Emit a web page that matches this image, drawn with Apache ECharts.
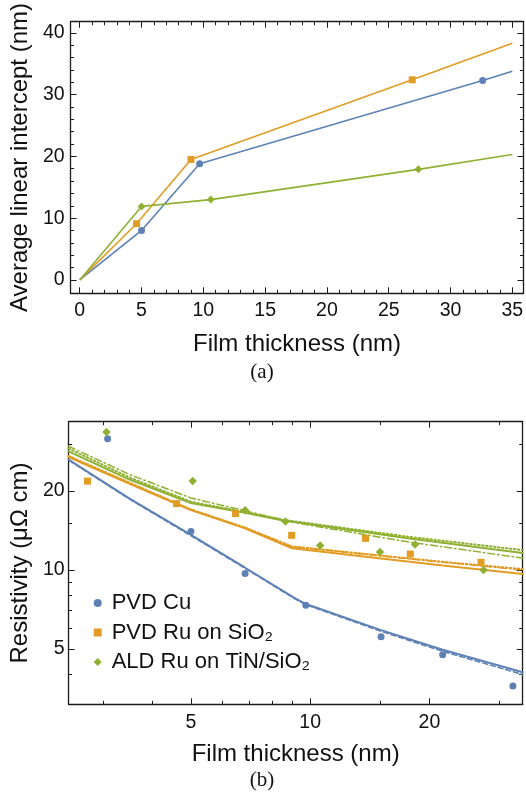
<!DOCTYPE html>
<html><head><meta charset="utf-8">
<script src="https://cdn.jsdelivr.net/npm/echarts@6/dist/echarts.min.js"></script>
<style>html,body{margin:0;padding:0;background:#fff}#c{width:526px;height:800px}</style>
</head><body><div id="c"></div>
<script>
// ---------- Panel (a): average linear intercept ----------
const aCuX  = [0, 5.0, 9.7, 32.6, 35];
const aCuY  = [0, 8.0, 18.8, 32.3, 33.8];
const aRuX  = [0, 4.6, 9.0, 26.9, 35];
const aRuY  = [0, 9.1, 19.5, 32.4, 38.3];
const aAldX = [0, 5.0, 10.6, 27.4, 35];
const aAldY = [0, 11.9, 13.0, 17.9, 20.3];
const aXTicks = [0, 5, 10, 15, 20, 25, 30, 35];
const aYTicks = [0, 10, 20, 30, 40];

// ---------- Panel (b): resistivity (log-log) ----------
const bCuX  = [3.08, 5.0, 6.85, 9.75, 15.1, 21.6, 32.5];
const bCuY  = [31.6, 14.0, 9.7, 7.34, 5.57, 4.76, 3.62];
const bRuX  = [2.74, 4.6, 6.48, 8.98, 13.8, 17.9, 27.0];
const bRuY  = [21.8, 17.9, 16.4, 13.55, 13.2, 11.5, 10.7];
const bAldX = [3.06, 5.05, 6.85, 8.66, 10.6, 15.0, 18.4, 27.4];
const bAldY = [33.5, 21.8, 16.9, 15.3, 12.4, 11.7, 12.5, 10.0];

const fitCuX      = [2.455, 3.5, 5.0, 6.85, 9.1, 9.75, 15.1, 21.6, 34.4];
const fitCuY      = [26.3, 18.7, 13.6, 10.2, 7.85, 7.42, 5.9, 4.97, 4.08];
const fitCuDashY  = [26.2, 18.6, 13.5, 10.15, 7.8, 7.38, 5.84, 4.9, 4.0];
const fitRuX      = [2.455, 3.5, 5.0, 6.85, 9.0, 15.1, 21.6, 34.4];
const fitRuY      = [26.9, 21.3, 16.9, 14.4, 12.1, 11.06, 10.4, 9.65];
const fitRuDotY   = [27.2, 21.5, 17.0, 14.5, 12.3, 11.35, 10.75, 10.08];
const fitRuDDY    = [27.1, 21.4, 17.0, 14.5, 12.25, 11.3, 10.7, 10.0];
const fitAldX     = [2.455, 3.5, 5.0, 6.85, 8.6, 9.5, 17.6, 34.4];
const fitAldY     = [28.3, 22.1, 18.0, 16.5, 15.4, 15.1, 13.2, 11.6];
const fitAldDotY  = [29.0, 22.5, 18.2, 16.6, 15.5, 15.2, 13.4, 11.9];
const fitAldDDY   = [29.6, 23.1, 18.8, 16.8, 15.5, 15.0, 12.8, 11.1];

const bXMajor = [5, 10, 20];
const bXMinor = [3, 4, 6, 7, 8, 9, 15, 30];
const bYMajor = [5, 10, 20];
const bYMinor = [4, 6, 7, 8, 9, 15, 30];

const names = ['PVD Cu', 'PVD Ru on SiO\u2082', 'ALD Ru on TiN/SiO\u2082'];
const C = ['#5E81B5', '#E19C24', '#8FB032'];

const FONT = 'Liberation Sans, Arial, sans-serif';
const AX = '#1a1a1a';

const range = (a, b, s) => { const r = []; for (let v = a; v <= b + 1e-9; v += s) r.push(+v.toFixed(6)); return r; };
const zip = (xs, ys) => xs.map((x, i) => [x, ys[i]]);
const lg = v => Math.log10(v);

// frame axes builder
function frame(dim, grid, min, max, majors, minors, labels, fmt, name, nameGap, labelMargin) {
  const posA = dim === 'x' ? 'bottom' : 'left';
  const posB = dim === 'x' ? 'top' : 'right';
  const mk = (pos, tickVals, len, line, lab) => ({
    type: 'value', gridIndex: grid, min, max, position: pos, silent: true,
    splitLine: { show: false },
    axisLine: { show: line, onZero: false, lineStyle: { color: AX, width: 1.3 } },
    axisTick: { show: true, inside: true, length: len, customValues: tickVals, lineStyle: { color: AX, width: 1 } },
    axisLabel: lab ? { show: true, customValues: labels, formatter: fmt, margin: labelMargin,
      fontSize: 19.5, fontFamily: FONT, color: '#111' } : { show: false }
  });
  const main = mk(posA, majors, 6, true, true);
  main.name = name; main.nameLocation = 'middle'; main.nameGap = nameGap;
  main.nameRotate = dim === 'y' ? 90 : 0;
  main.nameTextStyle = { fontSize: 24, fontFamily: FONT, color: '#111' };
  return [main, mk(posA, minors, 3.5, false, false), mk(posB, majors, 6, true, false), mk(posB, minors, 3.5, false, false)];
}

const aXMin = -0.74, aXMax = 35.9, aYMin = -2.17, aYMax = 41.8;
const bXMin = 2.455, bXMax = 34.4, bYMin = 3.08, bYMax = 36.7;

const xAxes = [
  { type: 'value', gridIndex: 0, min: aXMin, max: aXMax, show: false },
  ...frame('x', 0, aXMin, aXMax, aXTicks, range(0, 35, 1).filter(v => v % 5), aXTicks, v => String(Math.round(v)), 'Film thickness (nm)', 39, 7),
  { type: 'log', logBase: 10, gridIndex: 1, min: bXMin, max: bXMax, show: false },
  ...frame('x', 1, lg(bXMin), lg(bXMax), bXMajor.map(lg), bXMinor.map(lg), bXMajor.map(lg), v => String(Math.round(Math.pow(10, v))), 'Film thickness (nm)', 38, 8)
];
const yAxes = [
  { type: 'value', gridIndex: 0, min: aYMin, max: aYMax, show: false },
  ...frame('y', 0, aYMin, aYMax, aYTicks, range(0, 40, 2).filter(v => v % 10), aYTicks, v => String(Math.round(v)), 'Average linear intercept (nm)', 29, 6),
  { type: 'log', logBase: 10, gridIndex: 1, min: bYMin, max: bYMax, show: false },
  ...frame('y', 1, lg(bYMin), lg(bYMax), bYMajor.map(lg), bYMinor.map(lg), bYMajor.map(lg), v => String(Math.round(Math.pow(10, v))), 'Resistivity (\u03bc\u03a9 cm)', 30, 4)
];

function aLine(xs, ys, color, symbol, size) {
  return {
    type: 'line', xAxisIndex: 0, yAxisIndex: 0, silent: true,
    data: zip(xs, ys).map((p, i) => ({ value: p, symbolSize: (i === 0 || i === xs.length - 1) ? 0 : size })),
    symbol, showAllSymbol: true, color,
    lineStyle: { color, width: 1.6 }, itemStyle: { color }
  };
}
function fit(xs, ys, color, type, width) {
  return { type: 'line', xAxisIndex: 5, yAxisIndex: 5, silent: true, symbol: 'none',
    data: zip(xs, ys), lineStyle: { color, width, type, cap: 'round' }, z: 2 };
}
function pts(name, xs, ys, color, symbol, size) {
  return { type: 'scatter', name, xAxisIndex: 5, yAxisIndex: 5, silent: true, data: zip(xs, ys),
    symbol, symbolSize: size, itemStyle: { color, opacity: 1 }, z: 5 };
}

const DD = [7, 3, 1.5, 3];
const DOT = [1.5, 2.5];
const DASH = [5, 3];

const series = [
  aLine(aCuX, aCuY, C[0], 'circle', 7),
  aLine(aRuX, aRuY, C[1], 'rect', 7),
  aLine(aAldX, aAldY, C[2], 'diamond', 8),
  fit(fitAldX, fitAldDDY, C[2], DD, 1.5),
  fit(fitAldX, fitAldDotY, C[2], DOT, 2),
  fit(fitAldX, fitAldY, C[2], 'solid', 2),
  fit(fitRuX, fitRuDDY, C[1], DD, 1.5),
  fit(fitRuX, fitRuDotY, C[1], DOT, 2),
  fit(fitRuX, fitRuY, C[1], 'solid', 2),
  fit(fitCuX, fitCuDashY, C[0], DASH, 1.5),
  fit(fitCuX, fitCuY, C[0], 'solid', 2),
  pts(names[0], bCuX, bCuY, C[0], 'circle', 7),
  pts(names[1], bRuX, bRuY, C[1], 'rect', 7),
  pts(names[2], bAldX, bAldY, C[2], 'diamond', 8.5)
];

const chart = echarts.init(document.getElementById('c'), null, { renderer: 'canvas' });
chart.setOption({
  animation: false,
  backgroundColor: '#fff',
  grid: [
    { left: 64, right: 1.5, top: 9.3, bottom: 506.7 },
    { left: 63.5, right: 3.3, top: 421.7, bottom: 95.7 }
  ],
  xAxis: xAxes,
  yAxis: yAxes,
  legend: {
    orient: 'vertical', left: 93.7, top: 592, itemGap: 7.5, itemWidth: 8, itemHeight: 8, padding: 0,
    selectedMode: false,
    data: [{ name: names[0], icon: 'circle' }, { name: names[1], icon: 'rect' }, { name: names[2], icon: 'diamond' }],
    textStyle: { fontSize: 22, fontFamily: FONT, color: '#111', padding: [0, 0, 0, 5] }
  },
  graphic: [
    { type: 'text', x: 262, y: 372, style: { text: '(a)', font: '21px "Liberation Serif", serif', fill: '#111', align: 'center', verticalAlign: 'middle', textAlign: 'center', textVerticalAlign: 'middle' } },
    { type: 'text', x: 262, y: 780, style: { text: '(b)', font: '21px "Liberation Serif", serif', fill: '#111', align: 'center', verticalAlign: 'middle', textAlign: 'center', textVerticalAlign: 'middle' } }
  ],
  series
});
</script></body></html>
